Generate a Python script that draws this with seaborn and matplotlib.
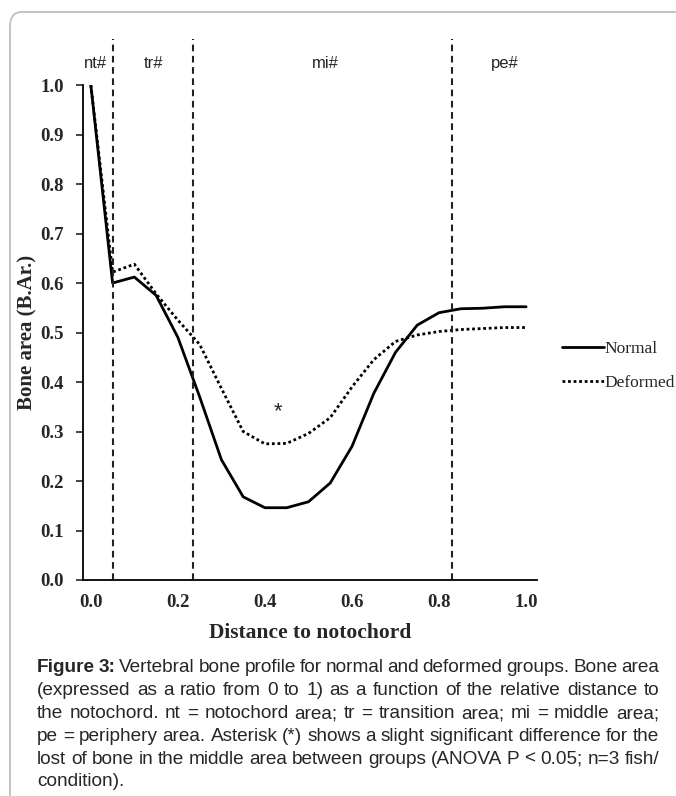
import matplotlib
matplotlib.use('Agg')
import pandas as pd
import seaborn as sns
import matplotlib.pyplot as plt
from matplotlib.patches import FancyBboxPatch

# Data
distance = [0.0, 0.05, 0.10, 0.15, 0.20, 0.25, 0.30, 0.35, 0.40, 0.45, 0.50,
            0.55, 0.60, 0.65, 0.70, 0.75, 0.80, 0.85, 0.90, 0.95, 1.00]
normal = [1.0, 0.60, 0.612, 0.575, 0.49, 0.37, 0.243, 0.168, 0.146, 0.146, 0.158,
          0.196, 0.27, 0.377, 0.46, 0.515, 0.54, 0.548, 0.549, 0.552, 0.552]
deformed = [1.0, 0.622, 0.638, 0.578, 0.525, 0.476, 0.387, 0.30, 0.275, 0.276, 0.296,
            0.328, 0.39, 0.445, 0.482, 0.495, 0.502, 0.506, 0.508, 0.51, 0.51]
borders = [0.052, 0.234, 0.83]
regions = ['nt#', 'tr#', 'mi#', 'pe#']
region_x = [0.01, 0.145, 0.538, 0.95]
yticks = [0.0, 0.1, 0.2, 0.3, 0.4, 0.5, 0.6, 0.7, 0.8, 0.9, 1.0]
xticks = [0.0, 0.2, 0.4, 0.6, 0.8, 1.0]

caption = [
    "Figure 3: Vertebral bone profile for normal and deformed groups. Bone area",
    "(expressed as a ratio from 0 to 1) as a function of the relative distance to",
    "the notochord. nt = notochord area; tr = transition area; mi = middle area;",
    "pe = periphery area. Asterisk (*) shows a slight significant difference for the",
    "lost of bone in the middle area between groups (ANOVA P < 0.05; n=3 fish/",
    "condition).",
]

df = pd.DataFrame({'distance': distance, 'Normal': normal, 'Deformed': deformed})

sns.set_style('white')
plt.rcParams['font.family'] = 'serif'
plt.rcParams['font.serif'] = ['Liberation Serif', 'DejaVu Serif']

W, H = 676, 796
fig = plt.figure(figsize=(W / 100, H / 100), dpi=100)
ax = fig.add_axes([83 / W, 1 - 580 / H, (537 - 83) / W, (580 - 85) / H])

sns.lineplot(data=df, x='distance', y='Normal', ax=ax, color='black', lw=2.0,
             label='Normal')
sns.lineplot(data=df, x='distance', y='Deformed', ax=ax, color='black', lw=2.0,
             label='Deformed')
ax.lines[1].set_linestyle((0, (1, 1)))

# region borders, running above the plot area
for b in borders:
    ax.plot([b, b], [0, 1.092], color='#222222', lw=1.5, ls=(0, (3.2, 2.2)),
            clip_on=False)
sans = ['Liberation Sans Narrow', 'Liberation Sans', 'DejaVu Sans']
for lab, xr in zip(regions, region_x):
    ax.text(xr, 1.043, lab, ha='center', va='center', fontsize=12, family=sans)

ax.text(0.43, 0.34, '*', ha='center', va='center', fontsize=16,
        family=['Liberation Sans', 'DejaVu Sans'])

ax.set_xlim(-0.018, 1.025)
ax.set_ylim(0, 1.0)
ax.set_xticks(xticks)
ax.set_yticks(yticks)
ax.set_xticklabels([f'{v:.1f}' for v in xticks], fontsize=13.5, fontweight='bold')
ax.set_yticklabels([f'{v:.1f}' for v in yticks], fontsize=13.5, fontweight='bold')
ax.tick_params(axis='x', length=0, pad=10)
ax.tick_params(axis='y', left=True, direction='out', length=5, width=1.2, pad=9)
sns.despine(ax=ax)
for s in ['left', 'bottom']:
    ax.spines[s].set_color('black')
    ax.spines[s].set_linewidth(1.3)

ax.set_xlabel('Distance to notochord', fontsize=15.5, fontweight='bold', labelpad=9)
ax.set_ylabel('Bone area (B.Ar.)', fontsize=15, fontweight='bold', labelpad=2)

ax.legend(loc='center left', bbox_to_anchor=(562 / W, 1 - 366 / H),
          bbox_transform=fig.transFigure, frameon=False, fontsize=12.5,
          handlelength=2.4, handletextpad=0.05, labelspacing=1.0,
          borderpad=0, borderaxespad=0)

# rounded frame around the figure
fig.patches.append(FancyBboxPatch((10 / W, -0.1), 1.2, 1.1 - 12 / H,
                                  boxstyle='round,pad=0,rounding_size=0.018',
                                  transform=fig.transFigure, fill=False,
                                  edgecolor='#c4c4c4', lw=1.4))

# justified caption
renderer = fig.canvas.get_renderer()
left, right = 37, 659
for i, line in enumerate(caption):
    yy = 1 - (668 + 22.8 * i) / H
    words = line.split(' ')
    texts = []
    for j, w in enumerate(words):
        bold = (i == 0 and j < 2)
        texts.append(fig.text(0, yy, w, fontsize=13.7, va='center',
                              fontweight='bold' if bold else 'normal',
                              family=['Liberation Sans', 'DejaVu Sans']))
    widths = [t.get_window_extent(renderer).width for t in texts]
    if i == len(caption) - 1 or len(words) == 1:
        gap = 4.0
    else:
        gap = (right - left - sum(widths)) / (len(words) - 1)
    x = left
    for t, w in zip(texts, widths):
        t.set_x(x / W)
        x += w + gap

fig.savefig('out.png', dpi=100)
